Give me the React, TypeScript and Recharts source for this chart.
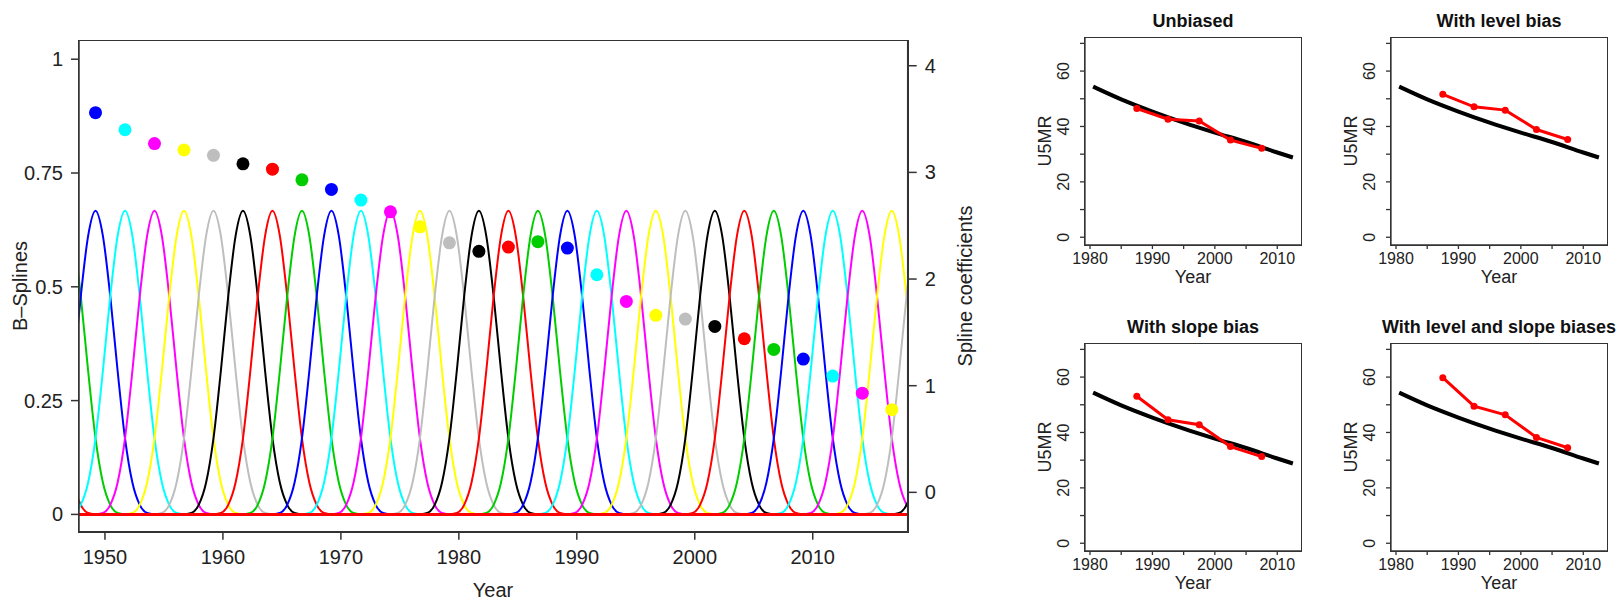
import React from 'react'
import { ComposedChart, LineChart, Line, Scatter, Cell, XAxis, YAxis } from 'recharts'

// --- left panel: cubic B-spline basis and fitted coefficients ---
const KNOT_SPACING = 2.5
const SPLINE_CENTERS = [
  1944.2, 1946.7, 1949.2, 1951.7, 1954.2, 1956.7, 1959.2, 1961.7, 1964.2, 1966.7, 1969.2,
  1971.7, 1974.2, 1976.7, 1979.2, 1981.7, 1984.2, 1986.7, 1989.2, 1991.7, 1994.2, 1996.7,
  1999.2, 2001.7, 2004.2, 2006.7, 2009.2, 2011.7, 2014.2, 2016.7, 2019.2, 2021.7,
]
// shape of one basis function (offset in knot spacings -> height)
const PROFILE_OFFSETS = [-2, -1.75, -1.5, -1.25, -1, -0.75, -0.5, -0.25, 0, 0.25, 0.5, 0.75, 1, 1.25, 1.5, 1.75, 2]
const PROFILE_VALUES = [0, 0.003, 0.021, 0.07, 0.167, 0.315, 0.479, 0.612, 0.667, 0.612, 0.479, 0.315, 0.167, 0.07, 0.021, 0.003, 0]

const COEF_YEARS = SPLINE_CENTERS.slice(2, 30)
const COEF_VALUES = [
  3.56, 3.4, 3.27, 3.21, 3.16, 3.08, 3.03, 2.93, 2.84, 2.74, 2.63, 2.49, 2.34, 2.26,
  2.3, 2.35, 2.29, 2.04, 1.79, 1.66, 1.625, 1.556, 1.44, 1.34, 1.25, 1.09, 0.93, 0.775,
]

const BIG_X_TICKS = [1950, 1960, 1970, 1980, 1990, 2000, 2010]
const BIG_LEFT_TICKS = [0, 0.25, 0.5, 0.75, 1]
const BIG_LEFT_LABELS = ['0', '0.25', '0.5', '0.75', '1']
const BIG_RIGHT_TICKS = [0, 1, 2, 3, 4]

// R palette order, starting with the spline centred at 1944.2
const PALETTE = ['#FF0000', '#00CD00', '#0000FF', '#00FFFF', '#FF00FF', '#FFFF00', '#BEBEBE', '#000000']

// --- right panels: U5MR ---
const TREND_YEARS = [1980.5, 1985, 1990, 1995, 2000, 2005, 2010, 2012.5]
const TREND_VALUES = [54.4, 49.8, 45.4, 41.4, 37.8, 34.4, 30.6, 28.8]

const SURVEY_YEARS = [1987.5, 1992.5, 1997.5, 2002.5, 2007.5]
const UNBIASED = [46.5, 42.6, 42.0, 35.1, 32.1]
const LEVEL_BIAS = [51.6, 47.1, 45.9, 38.9, 35.3]
const SLOPE_BIAS = [53.1, 44.6, 42.8, 34.9, 31.3]
const LEVEL_SLOPE_BIAS = [59.8, 49.5, 46.4, 38.2, 34.5]

const SMALL_X_TICKS = [1980, 1985, 1990, 1995, 2000, 2005, 2010]
const SMALL_Y_TICKS = [0, 10, 20, 30, 40, 50, 60, 70]

const FONT = '"Liberation Sans", Arial, Helvetica, sans-serif'
const INK = '#222'
const FRAME = '#333'

const splineSeries = SPLINE_CENTERS.map((c) =>
  PROFILE_OFFSETS.map((o, i) => ({ x: c + o * KNOT_SPACING, y: PROFILE_VALUES[i] })),
)
const coefData = COEF_YEARS.map((x, i) => ({ x, y: COEF_VALUES[i] }))
const baseline = [{ x: 1940, y: 0 }, { x: 2025, y: 0 }]
const trendData = TREND_YEARS.map((x, i) => ({ x, y: TREND_VALUES[i] }))

function HText({ x, y, size, bold, children }: any) {
  return (
    <div style={{
      position: 'absolute', left: x, top: y, transform: 'translate(-50%, -50%)',
      fontSize: size, fontWeight: bold ? 700 : 400, fontFamily: FONT, color: bold ? '#111' : INK,
      whiteSpace: 'nowrap', lineHeight: 1,
    }}>{children}</div>
  )
}

function VText({ x, y, size, children }: any) {
  return (
    <div style={{
      position: 'absolute', left: x, top: y, transform: 'translate(-50%, -50%) rotate(-90deg)',
      fontSize: size, fontFamily: FONT, color: INK, whiteSpace: 'nowrap', lineHeight: 1,
    }}>{children}</div>
  )
}

// plot frame drawn over the chart (R's box())
function Box({ x, y, w, h, bw }: any) {
  return (
    <div style={{
      position: 'absolute', left: x - bw / 2, top: y - bw / 2, width: w, height: h,
      border: `${bw}px solid ${FRAME}`, pointerEvents: 'none',
    }} />
  )
}

function BigPanel() {
  return (
    <div style={{ position: 'absolute', left: 0, top: 0 }}>
      <ComposedChart width={1000} height={600} margin={{ top: 41, right: 0, bottom: 0, left: 0 }}>
        <XAxis type="number" dataKey="x" domain={[1947.8, 2018.05]} allowDataOverflow
          ticks={BIG_X_TICKS} interval={0} height={68.3} tickSize={8} tickMargin={17}
          stroke={FRAME} strokeWidth={1.5}
          tick={({ x, y, payload }: any) => (
            <text x={x} y={y} textAnchor="middle" dominantBaseline="central" fontSize={20} fontFamily={FONT} fill={INK}>{payload.value}</text>
          )} />
        <YAxis yAxisId="left" dataKey="y" type="number" domain={[-0.038, 1.04]} allowDataOverflow
          ticks={BIG_LEFT_TICKS} interval={0} width={79} tickSize={8} tickMargin={8}
          stroke={FRAME} strokeWidth={1.5}
          tick={({ x, y, index }: any) => (
            <text x={x} y={y} textAnchor="end" dominantBaseline="central" fontSize={20} fontFamily={FONT} fill={INK}>{BIG_LEFT_LABELS[index]}</text>
          )} />
        <YAxis yAxisId="right" orientation="right" dataKey="y" type="number" domain={[-0.369, 4.232]}
          allowDataOverflow ticks={BIG_RIGHT_TICKS} interval={0} width={92.3} tickSize={9} tickMargin={8}
          stroke={FRAME} strokeWidth={1.5}
          tick={({ x, y, payload }: any) => (
            <text x={x} y={y} textAnchor="start" dominantBaseline="central" fontSize={20} fontFamily={FONT} fill={INK}>{payload.value}</text>
          )} />
        {splineSeries.map((d, i) => (
          <Line key={i} yAxisId="left" data={d} dataKey="y" type="monotone" stroke={PALETTE[i % 8]}
            strokeWidth={2} dot={false} activeDot={false} isAnimationActive={false} />
        ))}
        <Line yAxisId="left" data={baseline} dataKey="y" stroke="#FF0000" strokeWidth={3}
          dot={false} activeDot={false} isAnimationActive={false} />
        <Scatter yAxisId="right" data={coefData} dataKey="y" isAnimationActive={false}
          shape={(p: any) => <circle cx={p.cx} cy={p.cy} r={6.5} fill={p.fill} />}>
          {coefData.map((_, i) => <Cell key={i} fill={PALETTE[(i + 2) % 8]} />)}
        </Scatter>
      </ComposedChart>
      <Box x={79} y={41} w={828.7} h={490.7} bw={1.5} />
      <HText x={493} y={590} size={20}>Year</HText>
      <VText x={20} y={286} size={20}>B–Splines</VText>
      <VText x={965} y={286} size={20}>Spline coefficients</VText>
    </div>
  )
}

function SmallPanel({ left, top, title, values }: { left: number; top: number; title: string; values: number[] }) {
  const survey = SURVEY_YEARS.map((x, i) => ({ x, y: values[i] }))
  return (
    <div style={{ position: 'absolute', left, top, width: 300, height: 300 }}>
      <LineChart width={300} height={300} margin={{ top: 37.3, right: 19, bottom: 0, left: 0 }}>
        <XAxis type="number" dataKey="x" domain={[1979.2, 2013.8]} allowDataOverflow
          ticks={SMALL_X_TICKS} interval={0} height={55} tickSize={4} tickMargin={9.3}
          stroke={FRAME} strokeWidth={1.3}
          tick={({ x, y, payload }: any) => (
            <text x={x} y={y} textAnchor="middle" dominantBaseline="central" fontSize={16} fontFamily={FONT} fill={INK}>
              {payload.value % 10 === 0 ? payload.value : ''}
            </text>
          )} />
        <YAxis dataKey="y" type="number" domain={[-2.8, 72.2]} allowDataOverflow
          ticks={SMALL_Y_TICKS} interval={0} width={65} tickSize={5} tickMargin={16}
          stroke={FRAME} strokeWidth={1.3}
          tick={({ x, y, payload }: any) => (
            <text x={x} y={y} transform={`rotate(-90, ${x}, ${y})`} textAnchor="middle" dominantBaseline="central"
              fontSize={16} fontFamily={FONT} fill={INK}>
              {payload.value % 20 === 0 ? payload.value : ''}
            </text>
          )} />
        <Line data={trendData} dataKey="y" type="monotone" stroke="#000" strokeWidth={4}
          dot={false} activeDot={false} isAnimationActive={false} />
        <Line data={survey} dataKey="y" type="linear" stroke="#FF0000" strokeWidth={3}
          dot={{ r: 3.5, fill: '#FF0000', stroke: 'none' }} activeDot={false} isAnimationActive={false} />
      </LineChart>
      <Box x={65} y={37.3} w={216} h={207.7} bw={1.3} />
      <HText x={173} y={20.7} size={18} bold>{title}</HText>
      <HText x={173} y={276.7} size={18}>Year</HText>
      <VText x={25} y={141} size={18}>U5MR</VText>
    </div>
  )
}

export default function App() {
  return (
    <div style={{ position: 'absolute', left: 0, top: 0, width: 1620, height: 600, background: '#fff', overflow: 'hidden' }}>
      <BigPanel />
      <SmallPanel left={1020} top={0} title="Unbiased" values={UNBIASED} />
      <SmallPanel left={1326} top={0} title="With level bias" values={LEVEL_BIAS} />
      <SmallPanel left={1020} top={306} title="With slope bias" values={SLOPE_BIAS} />
      <SmallPanel left={1326} top={306} title="With level and slope biases" values={LEVEL_SLOPE_BIAS} />
    </div>
  )
}
